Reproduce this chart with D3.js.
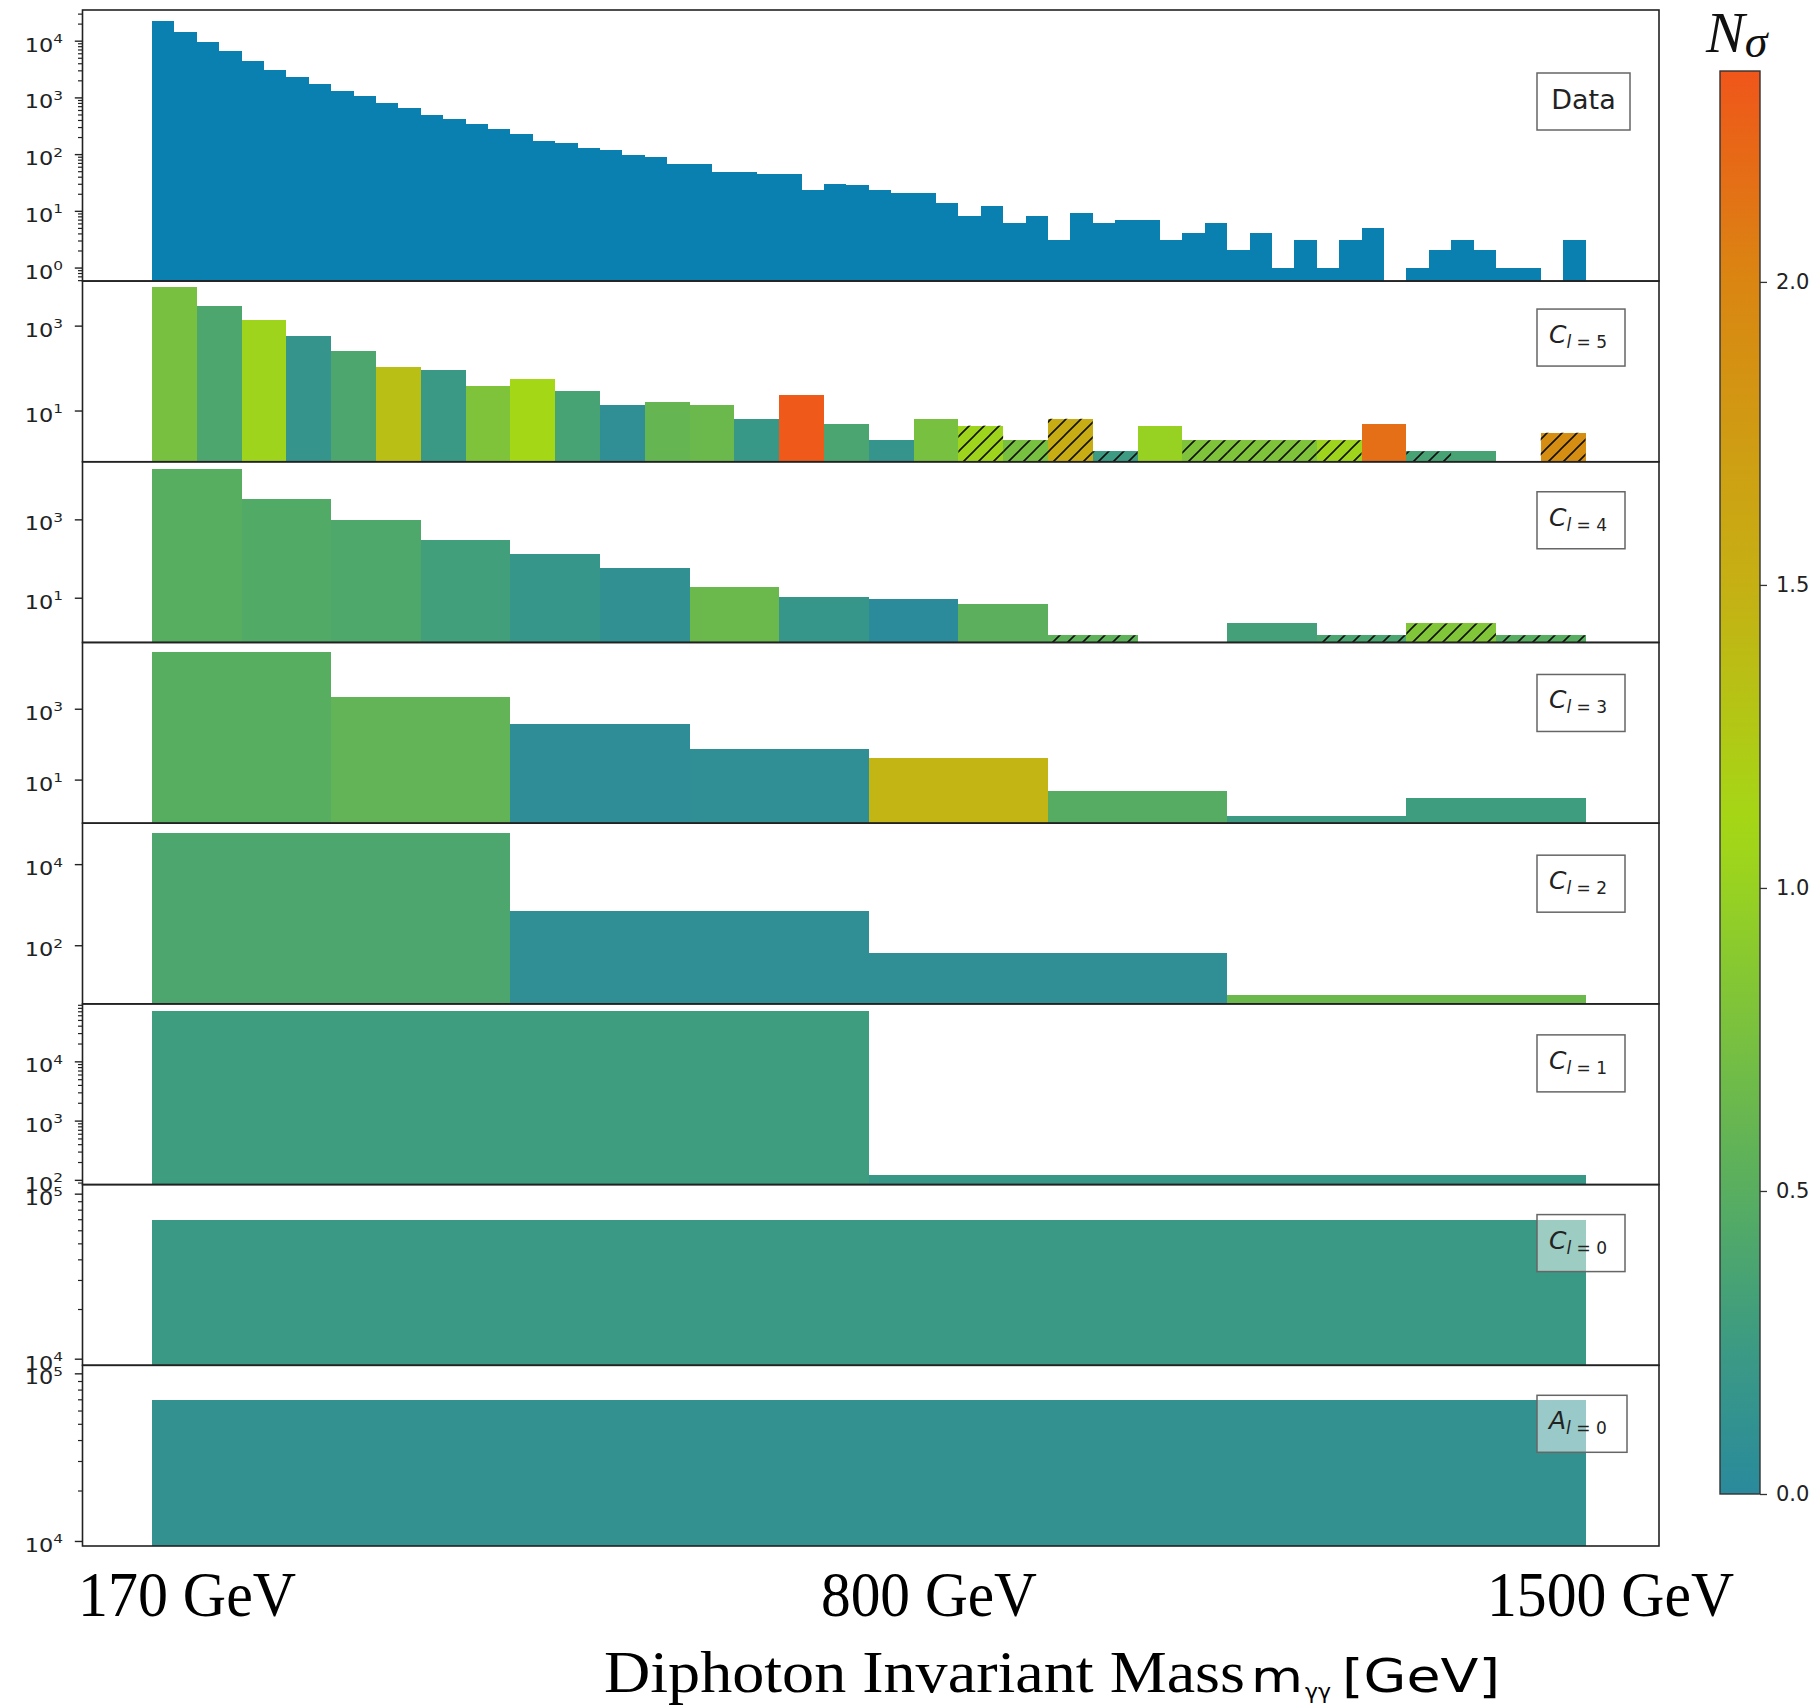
<!DOCTYPE html>
<html><head><meta charset="utf-8">
<script src="https://cdn.jsdelivr.net/npm/d3@7"></script>
<style>body{margin:0;background:#fff;} svg{display:block}</style>
</head><body>
<script>
// ---------------- DATA ----------------
const panelNames = ["Data", "C", "C", "C", "C", "C", "C", "A"];
const panelSubs  = [null, "5", "4", "3", "2", "1", "0", "0"];

const dataCounts = [22500,14000,9600,6500,4430,3040,2290,1700,1300,1060,
  787,658,490,411,336,281,229,172,157,130,
  118,96,88,66,66,49,49,45,45,23,
  30,28,23,21,21,14,8,12,6,8,
  3,9,6,7,7,3,4,6,2,4,
  1,3,1,3,5,0,1,2,3,2,
  1,1,0,3];

const c5Vals = [8150,2960,1385,563,258,106,92,38,56,29.5,13.8,15.8,13.8,6.4,23,4.9,
  2.0,6.4,4.4,2.0,6.4,1.09,4.4,2.0,2.0,2.0,2.0,4.9,1.09,1.09,0,3.0];
const c5Sig  = [0.75,0.4,1.05,0.15,0.4,1.35,0.22,0.8,1.1,0.35,0.08,0.6,0.65,0.2,2.33,0.38,
  0.15,0.75,1.05,0.75,1.55,0.25,1.0,0.8,0.8,0.8,1.05,2.17,0.35,0.35,0,1.9];
const c5Hatch = [0,0,0,0,0,0,0,0,0,0,0,0,0,0,0,0,
  0,0,1,1,1,1,0,1,1,1,1,0,1,0,0,1];

const c4Vals = [19500,3270,943,293,128,56,18.7,10.7,9.3,7.1,1.1,0,2.2,1.1,2.2,1.1];
const c4Sig  = [0.5,0.45,0.42,0.3,0.17,0.1,0.65,0.17,0.02,0.52,0.55,0,0.32,0.38,0.82,0.5];
const c4Hatch = [0,0,0,0,0,0,0,0,0,0,1,0,0,1,1,1];

const c3Vals = [41000,2180,359,74,40,4.9,0.94,3.1];
const c3Sig  = [0.5,0.58,0.05,0.08,1.45,0.48,0.25,0.27];

const c2Vals = [57500,716,63,6.0];
const c2Sig  = [0.4,0.08,0.08,0.65];

const c1Vals = [72000,122];
const c1Sig  = [0.27,0.2];

const c0Vals = [69500];
const c0Sig  = [0.22];

const a0Vals = [69000];
const a0Sig  = [0.12];

// y ranges (log10) and tick values per panel
const yLogLo = [-0.238,-0.207,-0.142,-0.23,0.554,1.92,3.96,3.97];
const yLogHi = [4.541,4.05,4.47,4.87,5.01,4.97,5.055,5.048];
const yTicks = [[1,10,100,1000,10000],[10,1000],[10,1000],[10,1000],[100,10000],[100,1000,10000],[10000,100000],[10000,100000]];
const yMinor = [true,false,false,false,false,true,true,true];

const xTickLabels = ["170 GeV","800 GeV","1500 GeV"];
const cbTicks = [0.0,0.5,1.0,1.5,2.0];
const cbMax = 2.348;

// colormap
const cmapStops  = [0,0.25,0.5,0.75,1.1,1.5,2.0,2.35];
const cmapColors = ["#2a8a9c","#3c9b82","#58ae60","#78c040","#a4d816","#c6b014","#da8612","#f0561a"];

// --------------- DRAW ----------------
const W = 1820, H = 1708;
const svg = d3.select("body").append("svg").attr("width", W).attr("height", H)
  .style("font-family", "DejaVu Sans");

const cmap = d3.scaleLinear().domain(cmapStops).range(cmapColors).clamp(true);

const defs = svg.append("defs");
const pat = defs.append("pattern").attr("id","hatch").attr("patternUnits","userSpaceOnUse")
  .attr("width",15).attr("height",15);
pat.append("path").attr("d","M-3,3 L3,-3 M0,15 L15,0 M12,18 L18,12")
  .attr("stroke","#111").attr("stroke-width",1.6);

const plotLeft = 82.5, plotRight = 1659, plotTop = 10, plotBottom = 1546;
const ratios = [1.5,1,1,1,1,1,1,1];
const unit = (plotBottom - plotTop) / d3.sum(ratios);
const tops = []; let acc = plotTop;
ratios.forEach(r => { tops.push(acc); acc += r * unit; });

const x = d3.scaleLinear().domain([0, 64]).range([152, 1585.5]);

const series = [dataCounts, c5Vals, c4Vals, c3Vals, c2Vals, c1Vals, c0Vals, a0Vals];
const sigmas = [null, c5Sig, c4Sig, c3Sig, c2Sig, c1Sig, c0Sig, a0Sig];
const hatches = [null, c5Hatch, c4Hatch, null, null, null, null, null];
const dataColor = "#0a80b0";

const legendTopOff = [63,28,30,32,32,31,30,30];
const legendW = [93,88,88,88,88,88,88,90];

series.forEach((vals, i) => {
  const top = tops[i], bottom = top + ratios[i] * unit;
  const y = d3.scaleLog().domain([10 ** yLogLo[i], 10 ** yLogHi[i]]).range([bottom, top]);
  const g = svg.append("g");
  const w = 64 / vals.length;
  const bars = vals.map((v, j) => ({v, j})).filter(d => d.v > 0);
  g.selectAll("rect.bar").data(bars).join("rect").attr("class","bar")
    .attr("x", d => x(d.j * w)).attr("width", d => x((d.j + 1) * w) - x(d.j * w))
    .attr("y", d => y(d.v)).attr("height", d => bottom - y(d.v))
    .attr("fill", d => i === 0 ? dataColor : cmap(sigmas[i][d.j]))
    .attr("shape-rendering","crispEdges");
  if (hatches[i]) {
    g.selectAll("rect.hatch").data(bars.filter(d => hatches[i][d.j])).join("rect").attr("class","hatch")
      .attr("x", d => x(d.j * w)).attr("width", d => x((d.j + 1) * w) - x(d.j * w))
      .attr("y", d => y(d.v)).attr("height", d => bottom - y(d.v))
      .attr("fill","url(#hatch)");
  }
  // minor ticks
  if (yMinor[i]) {
    const minors = [];
    for (let e = Math.floor(yLogLo[i]); e <= Math.ceil(yLogHi[i]); e++) {
      for (let m = 2; m <= 9; m++) {
        const v = m * 10 ** e;
        if (Math.log10(v) > yLogLo[i] && Math.log10(v) < yLogHi[i]) minors.push(v);
      }
    }
    const ma = g.append("g").attr("transform", `translate(${plotLeft},0)`)
      .call(d3.axisLeft(y).tickValues(minors).tickSize(4.5).tickFormat(""));
    ma.select(".domain").remove();
    ma.selectAll("line").attr("stroke","#222").attr("stroke-width",1.2);
  }
  const ax = g.append("g").attr("transform", `translate(${plotLeft},0)`)
    .call(d3.axisLeft(y).tickValues(yTicks[i]).tickSize(7.7).tickFormat(""));
  ax.select(".domain").remove();
  ax.selectAll("line").attr("stroke","#222").attr("stroke-width",1.4);
  // tick labels 10^n
  yTicks[i].forEach(v => {
    const e = Math.round(Math.log10(v));
    const t = g.append("g").attr("transform", `translate(63,${y(v)}) scale(1.18,1)`)
      .append("text").attr("text-anchor","end").attr("y", 11).attr("fill","#222");
    t.append("tspan").attr("font-size",19).text("10");
    t.append("tspan").attr("font-size",13).attr("dy",-8.5).text(String(e));
  });
  // frame
  g.append("rect").attr("x", plotLeft).attr("y", top).attr("width", plotRight - plotLeft)
    .attr("height", bottom - top).attr("fill","none").attr("stroke","#222").attr("stroke-width",1.6);
  // legend
  const lx = 1537, ly = top + legendTopOff[i], lw = legendW[i], lh = 57;
  g.append("rect").attr("x", lx).attr("y", ly).attr("width", lw).attr("height", lh)
    .attr("fill","#fff").attr("fill-opacity",0.5).attr("stroke","#666").attr("stroke-width",1.5);
  if (panelSubs[i] === null) {
    g.append("text").attr("x", lx + lw / 2).attr("y", ly + 36).attr("text-anchor","middle")
      .attr("font-size",27).attr("fill","#222").text(panelNames[i]);
  } else {
    const t = g.append("text").attr("x", lx + 12).attr("y", ly + 34).attr("fill","#222");
    t.append("tspan").attr("font-size",25).attr("font-style","italic").text(panelNames[i]);
    t.append("tspan").attr("font-size",17).attr("font-style","italic").attr("dy",5).text("l");
    t.append("tspan").attr("font-size",17).text(" = " + panelSubs[i]);
  }
});

// colorbar
const cbX = 1720, cbW = 40, cbTop = 71, cbBot = 1494;
const cy = d3.scaleLinear().domain([0, cbMax]).range([cbBot, cbTop]);
const grad = defs.append("linearGradient").attr("id","cbgrad").attr("x1",0).attr("y1",1).attr("x2",0).attr("y2",0);
d3.range(0, 41).forEach(k => {
  const v = cbMax * k / 40;
  grad.append("stop").attr("offset", k / 40).attr("stop-color", cmap(v));
});
svg.append("rect").attr("x", cbX).attr("y", cbTop).attr("width", cbW).attr("height", cbBot - cbTop)
  .attr("fill","url(#cbgrad)").attr("stroke","#333").attr("stroke-width",1.4);
const cba = svg.append("g").attr("transform", `translate(${cbX + cbW},0)`)
  .call(d3.axisRight(cy).tickValues(cbTicks).tickSize(7).tickPadding(9).tickFormat(d3.format(".1f")));
cba.select(".domain").remove();
cba.selectAll("line").attr("stroke","#333").attr("stroke-width",1.3);
cba.selectAll("text").attr("font-size",21).attr("font-family","DejaVu Sans").attr("fill","#222");

const ns = svg.append("text").attr("x",1706).attr("y",52).attr("font-family","Liberation Serif")
  .attr("font-style","italic").attr("fill","#111");
ns.append("tspan").attr("font-size",58).text("N");
ns.append("tspan").attr("font-size",46).attr("dy",5).text("σ");

// bottom annotations
const xLabelPos = [[78,218],[821,216],[1487,247]];
xTickLabels.forEach((s, k) => {
  svg.append("text").attr("x", xLabelPos[k][0]).attr("y",1616)
    .attr("font-family","Liberation Serif").attr("font-size",64).attr("fill","#000")
    .attr("textLength", xLabelPos[k][1]).attr("lengthAdjust","spacingAndGlyphs").text(s);
});
svg.append("text").attr("x",604).attr("y",1692).attr("font-family","Liberation Serif")
  .attr("font-size",60).attr("fill","#000").attr("textLength",641).attr("lengthAdjust","spacingAndGlyphs")
  .text("Diphoton Invariant Mass");
svg.append("text").attr("x",1251).attr("y",1692).attr("font-family","DejaVu Sans")
  .attr("font-size",45).attr("fill","#000").attr("textLength",52).attr("lengthAdjust","spacingAndGlyphs").text("m");
svg.append("text").attr("x",1305).attr("y",1699).attr("font-family","DejaVu Sans")
  .attr("font-size",22).attr("fill","#000").text("γγ");
svg.append("text").attr("x",1342).attr("y",1692).attr("font-family","DejaVu Sans")
  .attr("font-size",46).attr("fill","#000").attr("textLength",158).attr("lengthAdjust","spacingAndGlyphs").text("[GeV]");
</script>
</body></html>
